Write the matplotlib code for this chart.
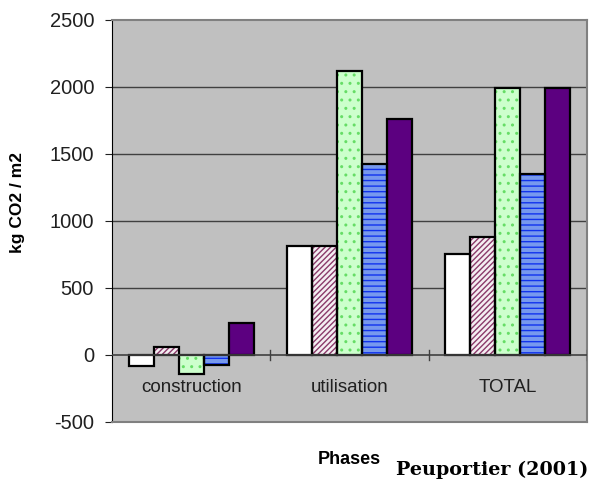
import numpy as np
import matplotlib.pyplot as plt

phases = ["construction", "utilisation", "TOTAL"]
s1 = [-80, 815, 750]
s2 = [60, 815, 883]
s3 = [-140, 2120, 1990]
s4 = [-75, 1425, 1348]
s5 = [240, 1760, 1990]
series = [s1, s2, s3, s4, s5]

faces = ["white", "#f4eef2", "#ccffcc", "#7799ee", "#5c0080"]
hatches = [None, "//////", "..", "---", None]
hcols = ["white", "#8a3a6a", "#66dd66", "#1133ee", "#5c0080"]

plt.rcParams['font.family'] = ['Liberation Sans', 'DejaVu Sans']
plt.rcParams['axes.unicode_minus'] = False
plt.rcParams['hatch.linewidth'] = 1.0
fig = plt.figure(figsize=(5.9, 4.87), dpi=100)
ax = fig.add_axes([0.19, 0.1335, 0.805, 0.8255])
ax.set_facecolor("#c0c0c0")

x = np.arange(len(phases))
w = 0.158
for i, vals in enumerate(series):
    pos = x + (i - 2) * w
    ax.bar(pos, vals, w, color=faces[i], hatch=hatches[i], edgecolor=hcols[i],
           linewidth=0, zorder=2)
    ax.bar(pos, vals, w, fill=False, edgecolor="black", linewidth=1.6, zorder=3)

ax.set_ylim(-500, 2500)
ax.set_xlim(-0.5, 2.5)
ax.set_yticks(np.arange(-500, 2501, 500))
ax.tick_params(axis="y", labelsize=14.5, length=5, pad=8, direction="out", colors="#202020")
ax.set_xticks([])
for y in range(500, 2001, 500):
    ax.axhline(y, color="#404040", linewidth=1, zorder=1)
ax.axhline(0, color="#404040", linewidth=1.2, zorder=4)
for xt in [0.5, 1.5, 2.5]:
    ax.plot([xt, xt], [-40, 40], color="#404040", linewidth=1, zorder=4)
for i, p in enumerate(phases):
    ax.text(i, -240, p, ha="center", va="center", fontsize=13.5, color="#202020")

for s in ["top", "right", "bottom"]:
    ax.spines[s].set_color("#808080")
    ax.spines[s].set_linewidth(1.5)
ax.spines["left"].set_color("black")

fig.text(0.03, 0.585, "kg CO2 / m2", rotation=90, ha="center", va="center",
         fontsize=12.5, fontweight="bold")
fig.text(0.592, 0.056, "Phases", ha="center", va="center", fontsize=13, fontweight="bold")
fig.text(0.834, 0.035, "Peuportier (2001)", ha="center", va="center", fontsize=13.8,
         fontweight="bold", family="DejaVu Serif")

fig.savefig("out.png", dpi=100)
